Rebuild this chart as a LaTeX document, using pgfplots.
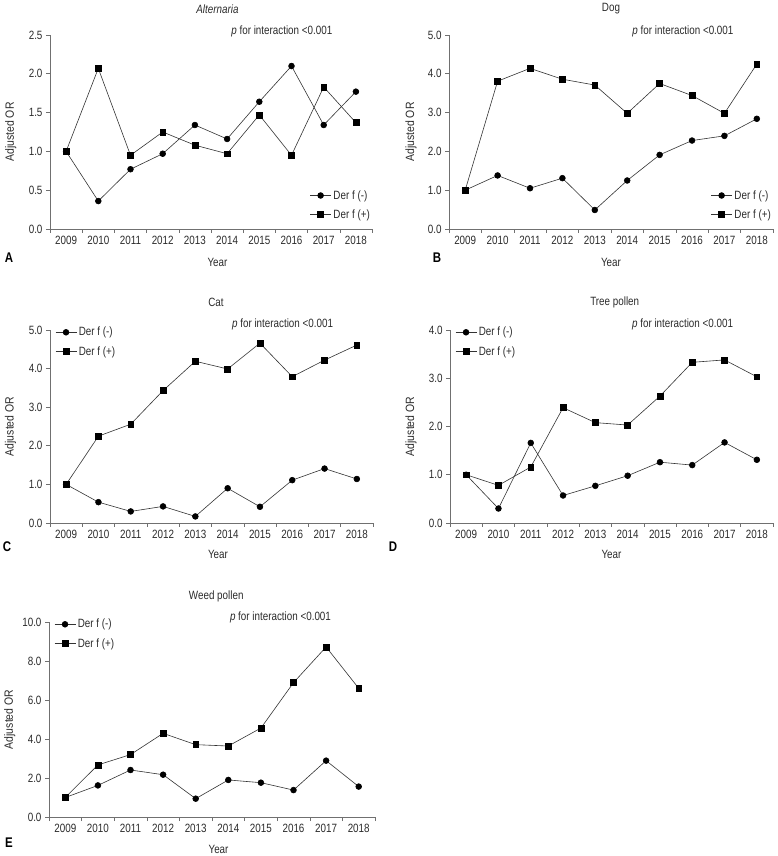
\documentclass[border=0pt]{standalone}
\usepackage{fontspec}
\setmainfont{Liberation Sans}[FakeStretch=0.82]
\newfontfamily\ylabfont{Liberation Sans}[FakeStretch=0.87]
\usepackage{pgfplots}
\pgfplotsset{compat=1.18}
\definecolor{axgray}{HTML}{707070}
\definecolor{txt}{HTML}{2B2B2B}
\definecolor{ln}{HTML}{333333}
\newcommand{\pfont}{\fontsize{12}{14}\selectfont}
\pgfplotsset{
  panel/.style={
    scale only axis,
    axis lines*=left,
    axis line style={draw=axgray, line width=0.6pt},
    tick style={draw=axgray, line width=0.6pt},
    tick align=outside,
    major tick length=4pt,
    xmin=-0.5, xmax=9.5, ymin=0,
    xtick={-0.5,0.5,1.5,2.5,3.5,4.5,5.5,6.5,7.5,8.5,9.5},
    xticklabels={2009,2010,2011,2012,2013,2014,2015,2016,2017,2018},
    x tick label as interval=true,
    /pgf/number format/assume math mode=true,
    y tick label style={/pgf/number format/.cd, fixed, fixed zerofill, precision=1},
    tick label style={font=\pfont, text=txt},
    label style={font=\pfont, text=txt},
    every axis title shift=0pt,
    title style={font=\pfont, text=txt, anchor=center, yshift=0pt},
    xlabel={Year}, ylabel={Adjusted OR},
    ylabel style={at={(axis description cs:-0.122,0.5)}, anchor=center, font=\ylabfont\fontsize{12}{14}\selectfont},
    clip=false,
    legend cell align=left,
    legend style={draw=none, fill=none, inner sep=0pt, row sep=5pt,
      font=\pfont, text=txt},
    legend image code/.code={\draw[mark repeat=2,mark phase=2] plot coordinates {(0cm,0cm) (0.37cm,0cm) (0.74cm,0cm)};},
  },
  neg/.style={color=ln, line width=0.6pt, mark=*, mark size=2.9pt, mark options={fill=black, draw=black}},
  pos/.style={color=ln, line width=0.6pt, mark=square*, mark size=2.9pt, mark options={fill=black, draw=black}},
  legbr/.style={legend style={at={(rel axis cs:1,0)}, anchor=south east, yshift=7pt}},
  legtl/.style={legend style={at={(rel axis cs:0,1)}, anchor=north west, xshift=5pt, yshift=5pt}},
}
\newcommand{\pint}{\textit{p} for interaction <0.001}
\begin{document}
\begin{tikzpicture}
\useasboundingbox (0,0) rectangle (778pt,856pt);
% ---------------- A
\begin{axis}[panel, legbr, at={(50pt,627pt)}, anchor=south west, width=322pt, height=194pt,
  ymax=2.5, ytick={0,0.5,1,1.5,2,2.5},
  title={\textit{Alternaria}}, title style={at={(axis description cs:0.52,1.134)}},
  xlabel style={at={(axis description cs:0.52,-0.17)}, anchor=center}]
\addplot[neg] coordinates {(0,1.00) (1,0.36) (2,0.77) (3,0.97) (4,1.34) (5,1.16) (6,1.64) (7,2.10) (8,1.34) (9,1.77)};
\addlegendentry{Der f (-)}
\addplot[pos] coordinates {(0,1.00) (1,2.07) (2,0.95) (3,1.25) (4,1.08) (5,0.97) (6,1.47) (7,0.95) (8,1.83) (9,1.37)};
\addlegendentry{Der f (+)}
\node[text=txt, font=\pfont] at (axis description cs:0.72,1.018) {\pint};
\end{axis}
% ---------------- B
\begin{axis}[panel, legbr, at={(449pt,627pt)}, anchor=south west, width=324pt, height=194pt,
  ymax=5, ytick={0,1,2,3,4,5},
  title={Dog}, title style={at={(axis description cs:0.5,1.134)}},
  ylabel style={at={(axis description cs:-0.117,0.5)}},
  xlabel style={at={(axis description cs:0.5,-0.17)}, anchor=center}]
\addplot[neg] coordinates {(0,1.00) (1,1.38) (2,1.05) (3,1.31) (4,0.49) (5,1.25) (6,1.91) (7,2.28) (8,2.40) (9,2.84)};
\addlegendentry{Der f (-)}
\addplot[pos] coordinates {(0,1.00) (1,3.81) (2,4.14) (3,3.86) (4,3.71) (5,2.98) (6,3.75) (7,3.44) (8,2.98) (9,4.25)};
\addlegendentry{Der f (+)}
\node[text=txt, font=\pfont] at (axis description cs:0.722,1.018) {\pint};
\end{axis}
% ---------------- C
\begin{axis}[panel, legtl, at={(50pt,333pt)}, anchor=south west, width=323pt, height=193pt,
  ymax=5, ytick={0,1,2,3,4,5},
  title={Cat}, title style={at={(axis description cs:0.514,1.145)}},
  xlabel style={at={(axis description cs:0.52,-0.165)}, anchor=center}]
\addplot[neg] coordinates {(0,1.00) (1,0.54) (2,0.30) (3,0.43) (4,0.17) (5,0.90) (6,0.42) (7,1.11) (8,1.41) (9,1.14)};
\addlegendentry{Der f (-)}
\addplot[pos] coordinates {(0,1.00) (1,2.25) (2,2.56) (3,3.43) (4,4.19) (5,3.99) (6,4.66) (7,3.79) (8,4.22) (9,4.61)};
\addlegendentry{Der f (+)}
\node[text=txt, font=\pfont] at (axis description cs:0.72,1.028) {\pint};
\end{axis}
% ---------------- D
\begin{axis}[panel, legtl, at={(450pt,333pt)}, anchor=south west, width=323pt, height=193pt,
  ymax=4, ytick={0,1,2,3,4},
  title={Tree pollen}, title style={at={(axis description cs:0.51,1.145)}},
  ylabel style={at={(axis description cs:-0.121,0.5)}},
  xlabel style={at={(axis description cs:0.5,-0.165)}, anchor=center}]
\addplot[neg] coordinates {(0,1.00) (1,0.30) (2,1.66) (3,0.57) (4,0.77) (5,0.98) (6,1.26) (7,1.20) (8,1.67) (9,1.31)};
\addlegendentry{Der f (-)}
\addplot[pos] coordinates {(0,1.00) (1,0.78) (2,1.16) (3,2.39) (4,2.08) (5,2.03) (6,2.63) (7,3.33) (8,3.38) (9,3.03)};
\addlegendentry{Der f (+)}
\node[text=txt, font=\pfont] at (axis description cs:0.72,1.028) {\pint};
\end{axis}
% ---------------- E
\begin{axis}[panel, legtl, at={(49pt,39pt)}, anchor=south west, width=326pt, height=195pt,
  ymax=10, ytick={0,2,4,6,8,10},
  title={Weed pollen}, title style={at={(axis description cs:0.513,1.133)}},
  ylabel style={at={(axis description cs:-0.12,0.5)}},
  xlabel style={at={(axis description cs:0.52,-0.165)}, anchor=center}]
\addplot[neg] coordinates {(0,1.00) (1,1.62) (2,2.41) (3,2.17) (4,0.94) (5,1.90) (6,1.76) (7,1.38) (8,2.89) (9,1.56)};
\addlegendentry{Der f (-)}
\addplot[pos] coordinates {(0,1.00) (1,2.67) (2,3.20) (3,4.29) (4,3.71) (5,3.64) (6,4.56) (7,6.89) (8,8.72) (9,6.60)};
\addlegendentry{Der f (+)}
\node[text=txt, font=\pfont] at (axis description cs:0.71,1.023) {\pint};
\end{axis}
% ---------------- panel letters
\begin{scope}[every node/.style={font=\fontsize{14}{16}\selectfont\bfseries, text=black, anchor=center}]
\node at (9pt,598.5pt) {A};
\node at (437pt,598.5pt) {B};
\node at (7pt,309pt) {C};
\node at (393pt,309pt) {D};
\node at (9pt,13pt) {E};
\end{scope}
\end{tikzpicture}
\end{document}
